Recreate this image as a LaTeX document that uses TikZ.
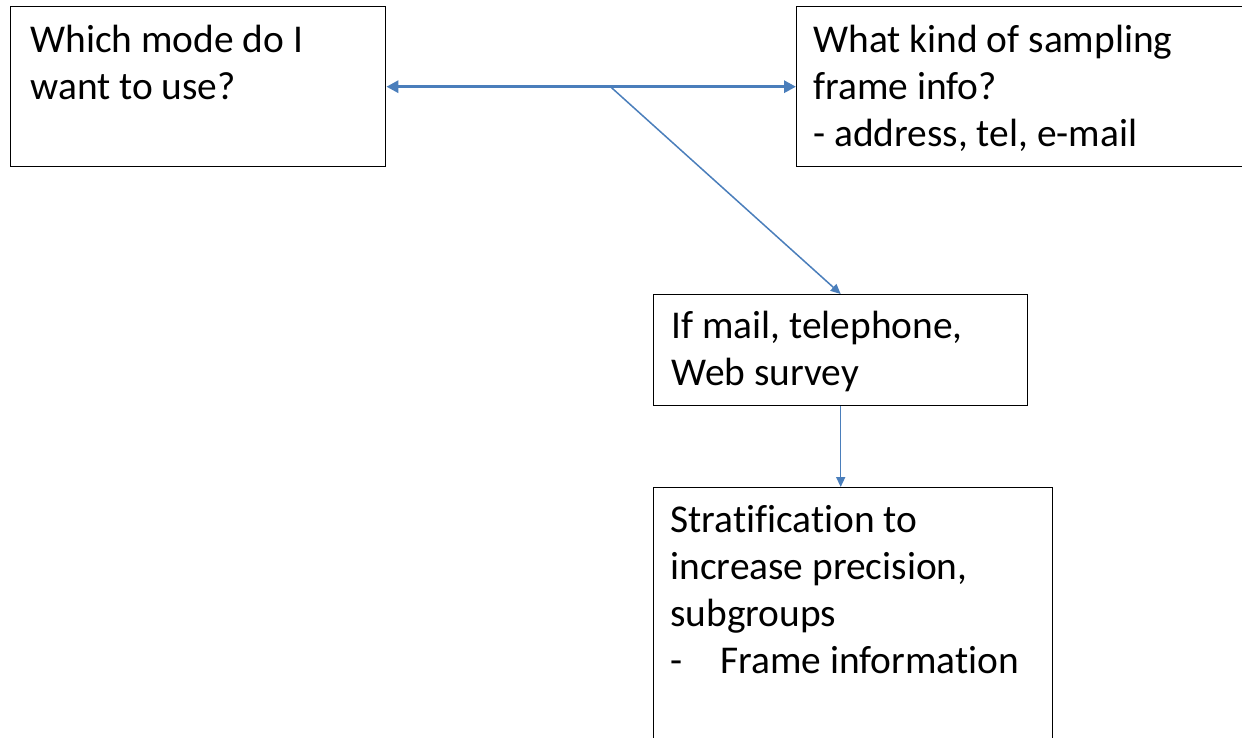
\documentclass[tikz,border=0pt]{standalone}
\usepackage{fontspec}
\setmainfont{Carlito}[Ligatures={NoCommon}]
\usetikzlibrary{arrows.meta}
\definecolor{linkblue}{RGB}{74,126,187}

\begin{document}
\begin{tikzpicture}[x=0.5pt,y=-0.5pt]
        \tikzset{
          Box/.style={draw=black, line width=0.7pt, anchor=north west, inner sep=0pt},
          BoxText/.style={anchor=north west, inner sep=0pt, align=left,
            font=\fontsize{19.7}{23.5}\selectfont},
          ThickLink/.style={linkblue, line width=1.5pt,
            {Triangle[length=6pt,width=6pt]}-{Triangle[length=6pt,width=6pt]}},
          ThinLink/.style={linkblue, line width=0.75pt, -{Triangle[length=5pt,width=4.5pt]}}
        }
        \useasboundingbox (0,0) rectangle (1242,738);
        \clip (0,0) rectangle (1242,738);
        % boxes
        \node[Box, minimum width=187.5pt, minimum height=80pt] (mode) at (10,6) {};
        \node[Box, minimum width=230pt, minimum height=80pt] (frame) at (796,6) {};
        \node[Box, minimum width=187pt, minimum height=55.5pt] (ifmail) at (653,294) {};
        \node[Box, minimum width=199.5pt, minimum height=140pt] (strat) at (653,487) {};
        % texts
        \node[BoxText] (modetext) at (30,19) {\strut Which mode do I\\want to use?};
        \node[BoxText] (frametext) at (813,19) {\strut What kind of sampling\\frame info?\\- address, tel, e-mail};
        \node[BoxText] (ifmailtext) at (671,305) {\strut If mail, telephone,\\Web survey};
        \node[BoxText] (strattext) at (670,499) {\strut Stratification to\\increase precision,\\subgroups\\\makebox[25pt][l]{-}Frame information};
        % connectors
        \draw[ThickLink] (mode.east) -- coordinate[pos=0.547] (split) (mode.east -| frame.west);
        \draw[ThinLink] (split) -- (ifmail.north);
        \draw[ThinLink] (ifmail.south) -- (ifmail.south |- strat.north);
\end{tikzpicture}
\end{document}
